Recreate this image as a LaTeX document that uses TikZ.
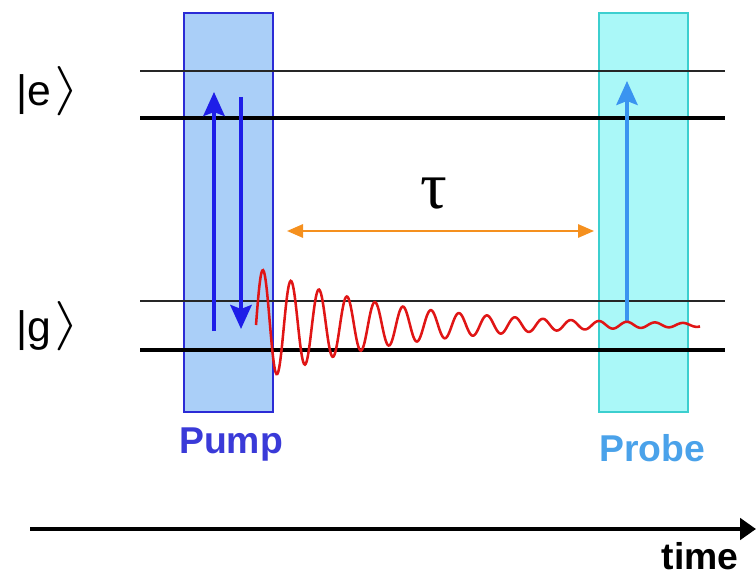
\documentclass[tikz,border=0pt]{standalone}
\usepackage{fontspec}
\setmainfont{Liberation Sans}
\newfontfamily\symbolserif{Liberation Serif}
\usetikzlibrary{arrows.meta, positioning}
\definecolor{pumpfill}{HTML}{AACFF8}
\definecolor{pumpline}{HTML}{2B2BD6}
\definecolor{probefill}{HTML}{AAF8F8}
\definecolor{probeline}{HTML}{3CCFCF}
\definecolor{pumparrow}{HTML}{1E1EE8}
\definecolor{probearrow}{HTML}{3A94F0}
\definecolor{delayorange}{HTML}{F5901E}
\definecolor{wavered}{HTML}{E01515}
\definecolor{pumptext}{HTML}{3A3AD8}
\definecolor{probetext}{HTML}{4AA2EA}
\newcommand{\ketclose}{\raisebox{2pt}{\resizebox*{19pt}{37pt}{$\rangle$}}}

\begin{document}
\begin{tikzpicture}[x=0.75pt, y=-0.75pt,
    pulsebox/.style={rectangle, inner sep=0pt, minimum width=66.75pt, minimum height=299.25pt, line width=0.9pt},
    thinlevel/.style={line width=0.9pt, black!85},
    thicklevel/.style={line width=3pt, black},
    transition/.style={line width=3pt, -{Stealth[length=18pt, width=16pt, inset=3pt]}},
    pulselabel/.style={font=\fontsize{28}{30}\selectfont\bfseries},
    statelabel/.style={font=\fontsize{32}{34}\selectfont, inner sep=0pt}]
  \useasboundingbox (0,0) rectangle (756,577);
  % Pulsos
  \node[pulsebox, fill=pumpfill, draw=pumpline] (pump) at (228.5,212.5) {};
  \node[pulsebox, fill=probefill, draw=probeline] (probe) at (643.5,212.5) {};
  % Niveles
  \coordinate (eul) at (140,71);  \coordinate (eur) at (725,71);
  \coordinate (e0l) at (140,118); \coordinate (e0r) at (725,118);
  \coordinate (gul) at (140,301); \coordinate (gur) at (725,301);
  \coordinate (g0l) at (140,350); \coordinate (g0r) at (725,350);
  \draw[thinlevel] (eul) -- (eur);
  \draw[thicklevel] (e0l) -- (e0r);
  \draw[thinlevel] (gul) -- (gur);
  \draw[thicklevel] (g0l) -- (g0r);
  \node[statelabel] (ket e) at (48,91) {|e\kern2pt\ketclose};
  \node[statelabel] (ket g) at (48,326) {|g\kern2pt\ketclose};
  % Transiciones
  \coordinate (up0) at (214,331);  \coordinate (up1) at (214,92);
  \coordinate (dn0) at (241,97);   \coordinate (dn1) at (241,329);
  \coordinate (pr0) at (627,322);  \coordinate (pr1) at (627,81);
  \draw[transition, pumparrow] (up0) -- (up1);
  \draw[transition, pumparrow] (dn0) -- (dn1);
  \draw[transition, probearrow, line width=2.6pt] (pr0) -- (pr1);
  % Retardo
  \coordinate (tl) at (287,231); \coordinate (tr) at (594,231);
  \draw[delayorange, line width=1.5pt, {Triangle[length=12pt, width=10pt]}-{Triangle[length=12pt, width=10pt]}] (tl) -- (tr);
  \node[font=\fontsize{50}{50}\selectfont\symbolserif] (tau) at (434,194) {τ};
  % Coherencia
  \draw[wavered, line width=1.9pt] plot[domain=0:444, samples=500, smooth]
    ({256+\x}, {325 - 58*exp(-0.0078*\x)*sin(12.857*\x)});
  % Etiquetas
  \node[pulselabel, pumptext] (pump label) at (231,445) {Pump};
  \node[pulselabel, probetext] (probe label) at (652,448) {Probe};
  % Eje de tiempo
  \coordinate (t0) at (30,529); \coordinate (t1) at (756,529);
  \draw[line width=3pt, -{Triangle[length=12pt, width=16pt]}] (t0) -- (t1);
  \node[pulselabel] (time label) at (700,556) {time};
\end{tikzpicture}
\end{document}
